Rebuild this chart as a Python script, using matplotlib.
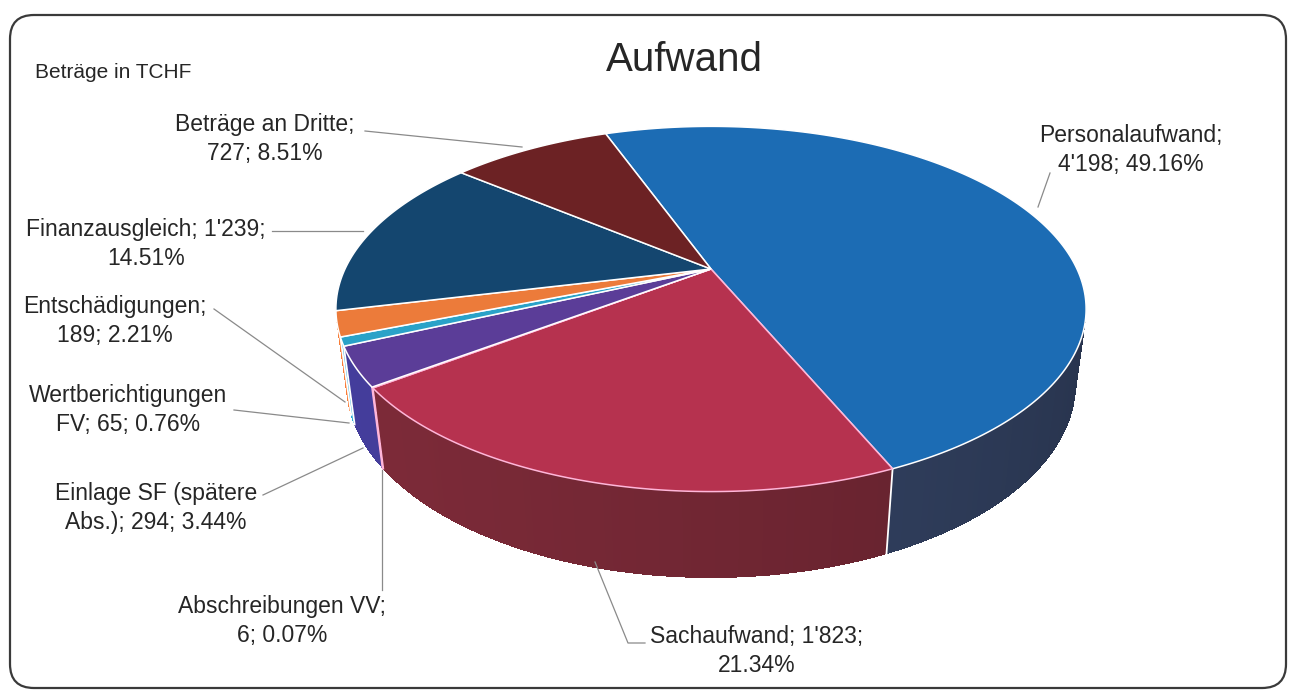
import numpy as np
import matplotlib.pyplot as plt
from matplotlib.colors import to_rgb
from matplotlib.patches import Polygon, FancyBboxPatch

plt.rcParams['font.family'] = ['Liberation Sans', 'DejaVu Sans']

# data (Beträge in TCHF)
categories = ["Personalaufwand", "Sachaufwand", "Abschreibungen VV",
              "Einlage SF (spätere\nAbs.)", "Wertberichtigungen\nFV",
              "Entschädigungen", "Finanzausgleich", "Beträge an Dritte"]
values = [4198, 1823, 6, 294, 65, 189, 1239, 727]
percents = [49.16, 21.34, 0.07, 3.44, 0.76, 2.21, 14.51, 8.51]
wrap_after = ["name", "value", "name", None, None, "name", "value", "name"]

top_colors = ["#1c6cb4", "#b6324f", "#f48cc0", "#5b3d98",
              "#2aa2c8", "#ec7b3a", "#14466f", "#6c2224"]
side_colors = ["#2f3d5b", "#6a2430", "#e070a8", "#3a3484",
               "#2390b4", "#d2692e", "#0f3a5c", "#551a1a"]

# label centres and leader lines in pixel coordinates
label_xy = [(1131, 150), (757, 651), (282, 621), (156, 508),
            (128, 410), (115, 321), (146, 244), (265, 139)]
leaders = [
    [(1050, 173), (1038, 207)],
    [(595, 562), (628, 643), (645, 643)],
    [(382, 470), (382, 590)],
    [(263, 495), (363, 448)],
    [(234, 410), (349, 423)],
    [(214, 309), (345, 402)],
    [(272, 231), (363, 231)],
    [(365, 131), (522, 147)],
]

# 3d pie geometry (perspective view)
CX, CY = 711, 269
R = 366
SIN_E = 0.475
COS_E = np.sqrt(1 - SIN_E ** 2)
D = 4.02
H = 0.235
START = 110.3


def project(t_deg, z=0.0):
    t = np.radians(np.atleast_1d(t_deg))
    x, y = np.cos(t), np.sin(t)
    w = y * COS_E - z * SIN_E
    v = y * SIN_E + z * COS_E
    s = D / (D + w)
    return np.column_stack([CX + R * x * s, CY - R * v * s])


def shade(color, t):
    f = 1 + 0.18 * np.cos(np.radians(t + 160))
    return tuple(np.clip(np.array(to_rgb(color)) * f, 0, 1))


def fmt_value(v):
    return f"{v:,}".replace(",", "'")


fig = plt.figure(figsize=(12.94, 6.91), dpi=100)
ax = fig.add_axes([0, 0, 1, 1])
ax.set_xlim(0, 1294)
ax.set_ylim(691, 0)
ax.axis("off")

total = sum(values)
spans = [360 * v / total for v in values]
starts = START - np.concatenate([[0], np.cumsum(spans)[:-1]])
ends = starts - np.array(spans)

# visible part of the side wall (tangent seen from the camera)
sil = np.degrees(np.arcsin(1 / (D * COS_E)))
vis_hi, vis_lo = -sil, -180 + sil

# side walls: solid outline first, then strips for a soft gradient
for i in range(len(values)):
    hi = min(starts[i], vis_hi)
    lo = max(ends[i], vis_lo)
    if lo >= hi:
        continue
    ts = np.linspace(hi, lo, max(2, int(hi - lo) + 2))
    outline = np.vstack([project(ts, 0), project(ts[::-1], -H)])
    ax.add_patch(Polygon(outline, closed=True,
                         facecolor=shade(side_colors[i], (hi + lo) / 2),
                         edgecolor="none", zorder=2))
    for a, b in zip(ts[:-1], ts[1:]):
        seg = np.vstack([project([a, b], 0), project([b, a], -H)])
        ax.add_patch(Polygon(seg, closed=True,
                             facecolor=shade(side_colors[i], (a + b) / 2),
                             edgecolor="none", lw=0, antialiased=False,
                             zorder=2.5))

# vertical edges where slices meet on the wall
for i in range(len(values)):
    t = ends[i]
    if vis_lo < t < vis_hi:
        p = np.vstack([project(t, 0), project(t, -H)])
        col = "#ffb6d9" if i in (1, 2) else "white"
        ax.plot(p[:, 0], p[:, 1], color=col, lw=1.3, zorder=3)

# top faces
for i in range(len(values)):
    ts = np.linspace(starts[i], ends[i], max(3, int(spans[i] * 2)))
    arc = project(ts, 0)
    pts = np.vstack([[CX, CY], arc])
    edge = "#ffb6d9" if i in (1, 2) else "white"
    ax.add_patch(Polygon(pts, closed=True, facecolor=top_colors[i],
                         edgecolor=edge, lw=1.1, zorder=4))

# labels
for i, name in enumerate(categories):
    val = fmt_value(values[i])
    pct = f"{percents[i]:.2f}%"
    if wrap_after[i] == "name":
        text = f"{name};\n{val}; {pct}"
    elif wrap_after[i] == "value":
        text = f"{name}; {val};\n{pct}"
    else:
        text = f"{name}; {val}; {pct}"
    ax.text(label_xy[i][0], label_xy[i][1], text, ha="center", va="center",
            fontsize=16.5, color="#262626", linespacing=1.3, zorder=6)
    line = np.array(leaders[i])
    ax.plot(line[:, 0], line[:, 1], color="#8a8a8a", lw=0.9, zorder=5)

ax.text(684, 60, "Aufwand", ha="center", va="center", fontsize=29,
        color="#262626")
ax.text(35, 72, "Beträge in TCHF", ha="left", va="center", fontsize=15,
        color="#262626")

frame = FancyBboxPatch((10, 15), 1276, 673,
                       boxstyle="round,pad=0,rounding_size=24",
                       facecolor="none", edgecolor="#3a3a3a", lw=1.6,
                       zorder=7)
ax.add_patch(frame)

fig.savefig("out.png", dpi=100)
